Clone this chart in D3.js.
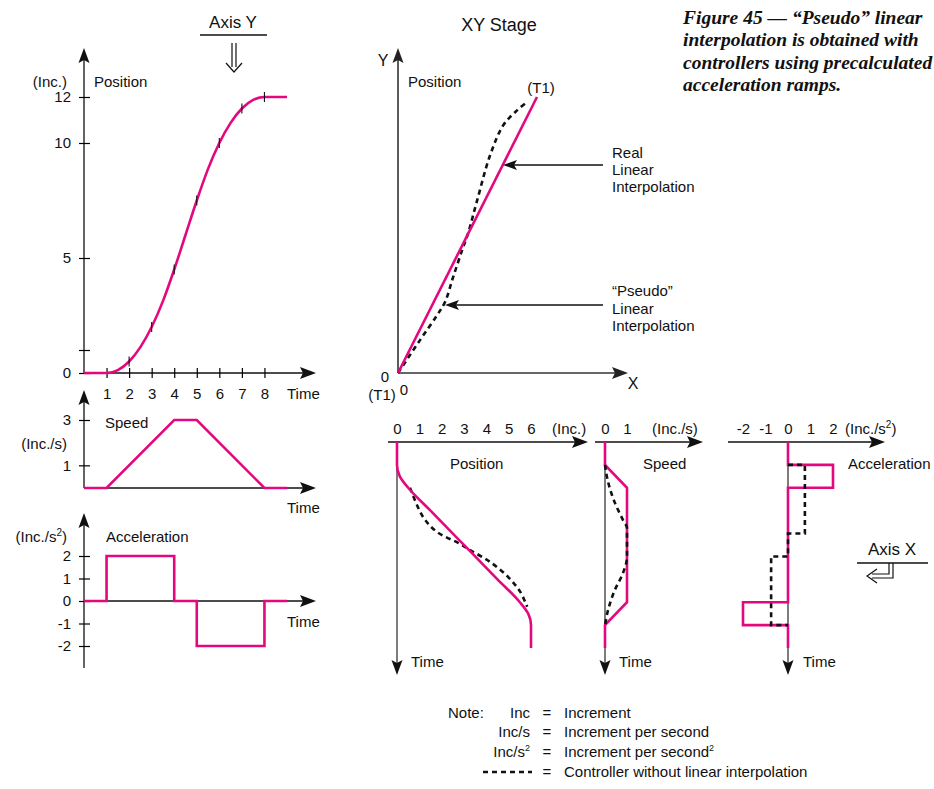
<!DOCTYPE html>
<html><head><meta charset="utf-8">
<script src="https://cdn.jsdelivr.net/npm/d3@7"></script>
<style>
body{margin:0;background:#fff}
svg{display:block}
text{font-family:"Liberation Sans",Arial,Helvetica,sans-serif;font-size:15px;fill:#111}
.cap{font-family:"Liberation Serif","Times New Roman",serif;font-style:italic;font-weight:bold;font-size:19.5px}
</style>
</head><body>
<script>
// ---------------- DATA ----------------
// Left column (Axis Y)
const timeTicks = [1,2,3,4,5,6,7,8];
const posTickValues = [0,1,5,10,12];
const posTickLabels = ["0","","5","10","12"];
const speedTickValues = [1,3];
const accTickValues = [-2,-1,0,1,2];
const yTime     = [0,1,1.5,2,2.5,3,3.5,4,4.5,5,5.5,6,6.5,7,7.5,8,9];
const yPosition = [0,0,0.125,0.5,1.125,2,3.125,4.5,6,7.5,8.875,10,10.875,11.5,11.875,12,12];
const curveMarkTimes = [2,3,4,5,6,7,8];
const ySpeedTime = [0,1,4,5,8,9];
const ySpeed     = [0,0,3,3,0,0];
const yAccTime   = [0,1,4,5,8,9];
const yAcc       = [0,2,0,-2,0,0];
// XY stage
const xyRealX = [0,6];
const xyRealY = [0,12];
const xyPseudoX = [0,0.95,1.69,2.03,2.38,2.77,3.03,3.42,3.98,4.55,5.15,5.6];
const xyPseudoY = [0,1.43,2.52,3.09,4.17,5.35,6.09,7.52,9.48,10.78,11.43,11.8];
// Bottom (Axis X)
const xPosTicks = [0,1,2,3,4,5,6];
const xSpeedTicks = [0,1];
const xAccTicks = [-2,-1,0,1,2];
const xRealTime = [0,1,1.5,2,3,4,5,6,7,7.5,8,9];
const xRealPos  = [0,0,0.125,0.5,1.5,2.5,3.5,4.5,5.5,5.875,6,6];
const xPseudoTime = [2.0,3.28,3.93,4.41,4.72,5.24,5.90,6.55,7.2];
const xPseudoPos  = [0.58,1.17,1.79,2.74,3.27,4.17,4.98,5.52,5.83];
const xSpeedTime = [0,1,2,7,8,9];
const xSpeed     = [0,0,1,1,0,0];
const xSpeedPseudoTime = [1,1.53,2.66,3.41,3.76,5.02,5.72,6.46,7.34,8];
const xSpeedPseudo     = [0,0.09,0.45,0.82,1,1,0.82,0.45,0.14,0];
const xAccTime = [0,1,2,7,8,9];
const xAcc     = [0,2,0,-2,0,0];
const xAccPseudoTime = [1,1,4,5,8];
const xAccPseudo     = [0,0.75,0,-0.75,0];

const PINK = "#e4087f";
const fmt = d => String(d);
// ---------------- DRAW ----------------
const svg = d3.select("body").append("svg").attr("width",934).attr("height",789);
svg.append("rect").attr("width",934).attr("height",789).attr("fill","#fff");

function hline(x1,x2,y,w=1.3,c="#111"){return svg.append("line").attr("x1",x1).attr("x2",x2).attr("y1",y).attr("y2",y).attr("stroke",c).attr("stroke-width",w);}
function vline(x,y1,y2,w=1.3,c="#111"){return svg.append("line").attr("x1",x).attr("x2",x).attr("y1",y1).attr("y2",y2).attr("stroke",c).attr("stroke-width",w);}
function arrow(x,y,dir,len=15,hw=5.5,c="#111"){
  let p;
  if(dir==="up") p=[[x,y],[x-hw,y+len],[x,y+len-3],[x+hw,y+len]];
  if(dir==="down") p=[[x,y],[x-hw,y-len],[x,y-len+3],[x+hw,y-len]];
  if(dir==="right") p=[[x,y],[x-len,y-hw],[x-len+3,y],[x-len,y+hw]];
  if(dir==="left") p=[[x,y],[x+len,y-hw],[x+len-3,y],[x+len,y+hw]];
  svg.append("path").attr("d","M"+p.map(d=>d.join(",")).join("L")+"Z").attr("fill",c);
}
function label(x,y,t,anchor="start",cls=null){
  const e=svg.append("text").attr("x",x).attr("y",y).attr("text-anchor",anchor).text(t);
  if(cls) e.attr("class",cls);
  return e;
}
function supLabel(x,y,pre,sup,post="",anchor="start",supSize=10){
  const e=svg.append("text").attr("x",x).attr("y",y).attr("text-anchor",anchor);
  e.append("tspan").text(pre);
  e.append("tspan").attr("dy",-6).style("font-size",supSize+"px").text(sup);
  e.append("tspan").attr("dy",6).text(post);
  return e;
}
function styleAxis(g){
  g.select(".domain").remove();
  g.selectAll("text").attr("font-family",null).attr("font-size",null).style("fill","#111");
  g.attr("font-family",null).attr("font-size",null);
}

// ===== Left column scales =====
const xL = d3.scaleLinear().domain([0,9]).range([84,287]);
const yPosL = d3.scaleLinear().domain([0,12]).range([373,97]);
const ySpdL = d3.scaleLinear().domain([0,3]).range([488,420]);
const yAccL = d3.scaleLinear().domain([-2,2]).range([646,556]);

// Position axes
vline(84,373,55); arrow(84,48,"up");
hline(84,308,373); arrow(316,373,"right",16,6);
svg.append("g").attr("transform","translate(84,0)")
  .call(d3.axisLeft(yPosL).tickValues(posTickValues).tickFormat((d,i)=>posTickLabels[i]).tickSizeInner(5).tickPadding(8))
  .call(styleAxis)
  .call(g=>g.selectAll(".tick line").attr("x2",6).attr("x1",-5).attr("stroke-width",1.2));
svg.append("g").attr("transform","translate(0,373)")
  .call(d3.axisBottom(xL).tickValues(timeTicks).tickFormat(fmt).tickSizeInner(5).tickPadding(10))
  .call(styleAxis)
  .call(g=>g.selectAll(".tick line").attr("y1",-5).attr("y2",5).attr("stroke-width",1.2));
label(67,87,"(Inc.)","end");
label(94,87,"Position");
label(287,399,"Time");
svg.append("path").datum(yTime.map((t,i)=>[t,yPosition[i]]))
  .attr("d",d3.line().x(d=>xL(d[0])).y(d=>yPosL(d[1])).curve(d3.curveMonotoneX))
  .attr("fill","none").attr("stroke",PINK).attr("stroke-width",2.6);
curveMarkTimes.forEach(t=>{
  const v=yPosition[yTime.indexOf(t)];
  vline(xL(t),yPosL(v)-5,yPosL(v)+5,1.1);
});

// Speed axes
vline(84,488,397); arrow(84,390,"up");
hline(84,308,488); arrow(316,488,"right",16,6);
svg.append("g").attr("transform","translate(84,0)")
  .call(d3.axisLeft(ySpdL).tickValues(speedTickValues).tickFormat(fmt).tickSizeInner(5).tickPadding(8))
  .call(styleAxis)
  .call(g=>g.selectAll(".tick line").attr("x2",6).attr("x1",-5).attr("stroke-width",1.2));
label(67,449,"(Inc./s)","end");
label(105,428,"Speed");
label(287,513,"Time");
svg.append("path").datum(ySpeedTime.map((t,i)=>[t,ySpeed[i]]))
  .attr("d",d3.line().x(d=>xL(d[0])).y(d=>ySpdL(d[1])))
  .attr("fill","none").attr("stroke",PINK).attr("stroke-width",2.6);

// Acceleration axes
vline(84,668,520); arrow(84,513,"up");
hline(84,308,601); arrow(316,601,"right",16,6);
svg.append("g").attr("transform","translate(84,0)")
  .call(d3.axisLeft(yAccL).tickValues(accTickValues).tickFormat(fmt).tickSizeInner(5).tickPadding(8))
  .call(styleAxis)
  .call(g=>g.selectAll(".tick line").attr("x2",6).attr("x1",-5).attr("stroke-width",1.2));
supLabel(67,542,"(Inc./s","2",")","end");
label(106,542,"Acceleration");
label(287,627,"Time");
svg.append("path").datum(yAccTime.map((t,i)=>[t,yAcc[i]]))
  .attr("d",d3.line().x(d=>xL(d[0])).y(d=>yAccL(d[1])).curve(d3.curveStepAfter))
  .attr("fill","none").attr("stroke",PINK).attr("stroke-width",2.6);

// Axis Y heading
label(233,28,"Axis Y","middle").style("font-size","17px");
hline(200,267,35,1.3);
svg.append("path").attr("d","M232,43V67M236,43V67M226,63L234,72L242,63")
  .attr("fill","none").attr("stroke","#111").attr("stroke-width",1.2);

// ===== XY Stage =====
const xXY = d3.scaleLinear().domain([0,6]).range([398,537]);
const yXY = d3.scaleLinear().domain([0,12]).range([373,97]);
label(499,31,"XY Stage","middle").style("font-size","18px");
vline(398,373,55,1.6,"#333"); arrow(398,48,"up",15,5.5,"#222");
hline(398,620,373,1.6,"#333"); arrow(628,373,"right",16,6,"#222");
label(383,66,"Y","middle").style("font-size","16px");
label(408,87,"Position");
label(633,389,"X","middle").style("font-size","16px");
label(385,382,"0","middle");
label(382,400,"(T1)","middle");
label(404,395,"0","middle");
label(541,93,"(T1)","middle");
svg.append("path").datum(xyPseudoX.map((x,i)=>[x,xyPseudoY[i]]))
  .attr("d",d3.line().x(d=>xXY(d[0])).y(d=>yXY(d[1])).curve(d3.curveCatmullRom))
  .attr("fill","none").attr("stroke","#111").attr("stroke-width",2.6).attr("stroke-dasharray","5,4");
svg.append("path").datum(xyRealX.map((x,i)=>[x,xyRealY[i]]))
  .attr("d",d3.line().x(d=>xXY(d[0])).y(d=>yXY(d[1])))
  .attr("fill","none").attr("stroke",PINK).attr("stroke-width",2.6);
hline(514,603,165,1.3); arrow(503,165,"left",14,5);
label(612,158,"Real"); label(612,175,"Linear"); label(612,192,"Interpolation");
hline(456,603,305,1.3); arrow(445,305,"left",14,5);
label(612,296,"\u201cPseudo\u201d"); label(612,314,"Linear"); label(612,331,"Interpolation");

// Caption
const capLines=["Figure 45 \u2014 \u201cPseudo\u201d linear","interpolation is obtained with","controllers using precalculated","acceleration ramps."];
capLines.forEach((t,i)=>label(683,24+i*22.3,t,"start","cap"));

// ===== Bottom: Axis X =====
const tB = d3.scaleLinear().domain([0,9]).range([442,648]);
// Position
const xPosB = d3.scaleLinear().domain([0,6]).range([397,531]);
hline(388,580,442); arrow(588,442,"right",16,6);
vline(397,442,668,1.1); arrow(397,675,"down",15,5.5);
svg.append("g").attr("transform","translate(0,442)")
  .call(d3.axisTop(xPosB).tickValues(xPosTicks).tickFormat(fmt).tickSize(0).tickPadding(8))
  .call(styleAxis);
label(552,434,"(Inc.)");
label(450,469,"Position");
label(411,667,"Time");
svg.append("path").datum(xPseudoTime.map((t,i)=>[xPseudoPos[i],t]))
  .attr("d",d3.line().x(d=>xPosB(d[0])).y(d=>tB(d[1])).curve(d3.curveCatmullRom))
  .attr("fill","none").attr("stroke","#111").attr("stroke-width",2.6).attr("stroke-dasharray","5,4");
svg.append("path").datum(xRealTime.map((t,i)=>[xRealPos[i],t]))
  .attr("d",d3.line().x(d=>xPosB(d[0])).y(d=>tB(d[1])).curve(d3.curveMonotoneY))
  .attr("fill","none").attr("stroke",PINK).attr("stroke-width",2.6);

// Speed
const xSpdB = d3.scaleLinear().domain([0,1]).range([605,627]);
hline(595,695,442); arrow(703,442,"right",16,6);
vline(605,442,668,1.1); arrow(605,675,"down",15,5.5);
svg.append("g").attr("transform","translate(0,442)")
  .call(d3.axisTop(xSpdB).tickValues(xSpeedTicks).tickFormat(fmt).tickSize(0).tickPadding(8))
  .call(styleAxis);
label(652,434,"(Inc./s)");
label(643,469,"Speed");
label(619,667,"Time");
svg.append("path").datum(xSpeedTime.map((t,i)=>[xSpeed[i],t]))
  .attr("d",d3.line().x(d=>xSpdB(d[0])).y(d=>tB(d[1])))
  .attr("fill","none").attr("stroke",PINK).attr("stroke-width",2.6);
svg.append("path").datum(xSpeedPseudoTime.map((t,i)=>[xSpeedPseudo[i],t]))
  .attr("d",d3.line().x(d=>xSpdB(d[0])).y(d=>tB(d[1])).curve(d3.curveMonotoneY))
  .attr("fill","none").attr("stroke","#111").attr("stroke-width",2.6).attr("stroke-dasharray","5,4");

// Acceleration
const xAccB = d3.scaleLinear().domain([-2,2]).range([743,833]);
hline(728,877,442); arrow(885,442,"right",16,6);
vline(788,442,668,1.1); arrow(788,675,"down",15,5.5);
svg.append("g").attr("transform","translate(0,442)")
  .call(d3.axisTop(xAccB).tickValues(xAccTicks).tickFormat(fmt).tickSize(0).tickPadding(8))
  .call(styleAxis);
supLabel(845,434,"(Inc./s","2",")");
label(848,469,"Acceleration");
label(803,667,"Time");
svg.append("path").datum(xAccTime.map((t,i)=>[xAcc[i],t]))
  .attr("d",d3.line().x(d=>xAccB(d[0])).y(d=>tB(d[1])).curve(d3.curveStepBefore))
  .attr("fill","none").attr("stroke",PINK).attr("stroke-width",2.6);
svg.append("path").datum(xAccPseudoTime.map((t,i)=>[xAccPseudo[i],t]))
  .attr("d",d3.line().x(d=>xAccB(d[0])).y(d=>tB(d[1])).curve(d3.curveStepBefore))
  .attr("fill","none").attr("stroke","#111").attr("stroke-width",2.6).attr("stroke-dasharray","5,4");

// Axis X heading
label(892,555,"Axis X","middle").style("font-size","17px");
hline(857,928,563,1.3);
svg.append("path").attr("d","M889,563V574H872M893,563V578H872M877,569L867,576L877,583")
  .attr("fill","none").attr("stroke","#111").attr("stroke-width",1.2);

// ===== Note =====
label(448,718,"Note:");
label(530,718,"Inc","end"); label(547,718,"=","middle"); label(564,718,"Increment");
label(530,737,"Inc/s","end"); label(547,737,"=","middle"); label(564,737,"Increment per second");
supLabel(530,757,"Inc/s","2","","end",9); label(547,757,"=","middle"); supLabel(564,757,"Increment per second","2","","start",9);
hline(483,532,772,2.4).attr("stroke-dasharray","5,4");
label(547,777,"=","middle"); label(564,777,"Controller without linear interpolation");
</script>
</body></html>
